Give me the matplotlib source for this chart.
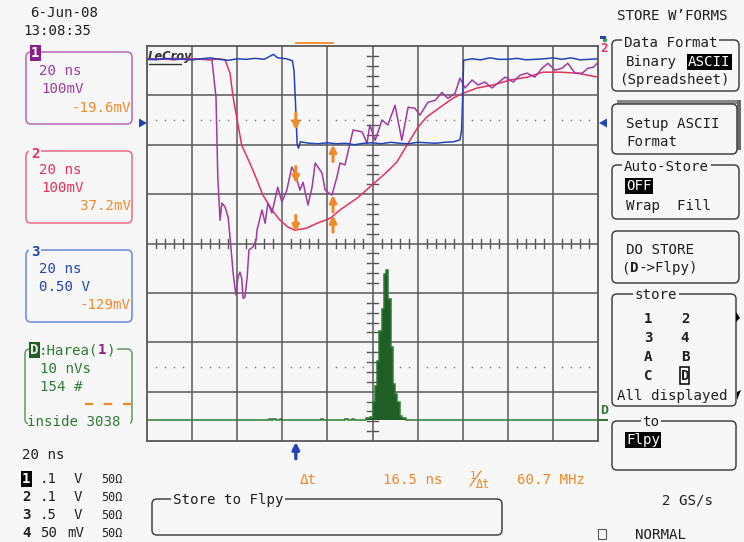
import matplotlib
matplotlib.use("Agg")
import matplotlib.pyplot as plt
from matplotlib.patches import FancyBboxPatch, Polygon, Rectangle
import numpy as np

# ---------------- acquisition data ----------------
# time in ns (20 ns/div, 10 div), level in screen divisions (0..8)
ch3_t = [0, 4, 8, 12, 16, 20, 24, 28, 32, 36, 40, 44, 48, 52, 56, 58, 62, 64.5, 65.2, 65.8,
         66.6, 67.2, 68, 72, 76, 80, 84, 88, 92, 96, 100, 104, 108, 112, 116, 120, 124, 128,
         132, 136, 138.8, 139.5, 140, 140.4, 144, 148, 152, 156, 160, 164, 168, 172, 176, 180,
         184, 188, 192, 196, 200]
ch3_v = [7.74, 7.72, 7.75, 7.73, 7.74, 7.72, 7.74, 7.76, 7.73, 7.71, 7.74, 7.73, 7.75, 7.73,
         7.83, 7.76, 7.74, 7.70, 7.50, 6.90, 6.00, 5.93, 6.06, 6.03, 6.02, 6.04, 6.02, 6.03,
         6.00, 6.03, 6.04, 6.02, 6.05, 6.03, 6.02, 6.05, 6.04, 6.03, 6.05, 6.06, 6.10, 6.30,
         6.96, 7.71, 7.74, 7.72, 7.76, 7.73, 7.73, 7.75, 7.72, 7.73, 7.74, 7.76, 7.73, 7.76,
         7.72, 7.73, 7.74]

ch2_t = [0, 6, 12, 18, 24, 28, 32, 34.6, 36.8, 38.2, 40, 42, 45.6, 48.8, 51.4, 55.4, 59, 62.6,
         65.6, 70.8, 75.4, 81.2, 85.6, 93.2, 100.2, 106.4, 110.8, 115.8, 120.2, 124, 130, 135.6,
         140, 146.4, 153.4, 161, 168.6, 175.6, 183.2, 190.6, 200]
ch2_v = [7.72, 7.74, 7.72, 7.75, 7.73, 7.72, 7.74, 7.72, 7.45, 6.96, 6.50, 5.99, 5.63, 5.28,
         4.98, 4.68, 4.47, 4.33, 4.27, 4.31, 4.41, 4.51, 4.68, 4.92, 5.20, 5.45, 5.65, 6.03,
         6.36, 6.56, 6.76, 6.94, 7.04, 7.15, 7.21, 7.31, 7.37, 7.47, 7.47, 7.45, 7.37]

ch1_t = [0, 6, 12, 18, 24, 28.8, 30.6, 31.4, 32.4, 33.2, 34.6, 36, 37.2, 38.2, 39.4, 40.4, 41.2,
         42, 42.6, 43.4, 44.4, 45.2, 47, 48.4, 48.8, 51, 52.4, 53.6, 55.4, 58, 59.8, 62, 64.2,
         65.6, 67.8, 69.2, 71.4, 73.2, 74.6, 77.6, 79, 82, 84.2, 85.6, 87.8, 90, 91.4, 95.4,
         97.6, 98.8, 101.2, 104.2, 106.8, 110, 113, 115.8, 118.8, 121, 124.6, 127.8, 130.8,
         133.4, 136.6, 138.8, 141, 144.2, 146.8, 149.8, 153, 155.6, 158.8, 162.4, 165.4, 168.6,
         172, 175.2, 177.8, 181, 184, 186.6, 189.8, 193, 195.6, 198, 200]
ch1_v = [7.74, 7.73, 7.75, 7.72, 7.74, 7.72, 6.96, 5.34, 4.47, 4.82, 4.74, 4.53, 3.93, 3.40,
         2.96, 3.32, 3.42, 3.30, 2.89, 2.91, 3.30, 3.87, 3.93, 4.07, 4.27, 4.68, 4.41, 4.82,
         4.62, 5.14, 4.84, 5.08, 5.55, 5.43, 5.08, 5.24, 4.78, 5.14, 5.63, 5.43, 5.08, 4.98,
         5.34, 5.63, 5.59, 6.03, 6.30, 6.26, 6.03, 6.40, 6.09, 6.50, 6.40, 6.80, 6.09, 6.76,
         6.74, 6.60, 6.86, 6.90, 7.06, 6.94, 7.04, 7.35, 7.15, 7.31, 7.21, 7.27, 7.15, 7.25,
         7.37, 7.27, 7.41, 7.45, 7.37, 7.55, 7.65, 7.51, 7.55, 7.65, 7.45, 7.45, 7.55, 7.57,
         7.67]

# math trace D: histogram of area (1 ns bins, left edge in ns -> hits)
hist_t = [54, 56, 59, 77, 88, 91, 97, 98, 99, 100, 101, 102, 103, 104, 105, 106, 107, 108,
          109, 110, 111, 112, 113, 114]
hist_n = [1, 1, 1, 1, 1, 1, 2, 2, 3, 18, 34, 60, 90, 112, 148, 152, 122, 74, 36, 26, 18, 4,
          2, 2]

cursor_t1 = 66.0
delta_t = 16.5
cursor_t2 = cursor_t1 + delta_t
trigger_t = 66.0
# levels (div) the cursors read on each trace
cur1_lv = {"ch3": 6.30, "ch1": 5.22, "ch2": 4.23}
cur2_lv = {"ch3": 6.00, "ch1": 4.98, "ch2": 4.57}

# ---------------- styling ----------------
W, H = 744, 542
BG = "#f7f7f7"
GRID = "#585858"
FG = "#202020"
PURPLE = "#a03aa0"
PURPLE_D = "#8a1f8a"
RED = "#e8305c"
BLUE = "#2244b8"
ORANGE = "#f0892a"
GREEN = "#2f7a34"
GREEN_D = "#1f5e24"
MONO = "DejaVu Sans Mono"
FS = 10.2

fig = plt.figure(figsize=(W / 100, H / 100), dpi=100, facecolor=BG)
ov = fig.add_axes([0, 0, 1, 1], zorder=0)
ov.set_xlim(0, W)
ov.set_ylim(H, 0)
ov.axis("off")
ov.set_facecolor(BG)


def txt(x, y, s, c=FG, ha="left", fs=FS, bold=False, inv=None, bg=False, fam=MONO, z=3):
    kw = {}
    if inv is not None:
        kw["bbox"] = dict(boxstyle="square,pad=0.08", fc=inv, ec="none")
    elif bg:
        kw["bbox"] = dict(boxstyle="square,pad=0.12", fc=BG, ec="none")
    ov.text(x, y + 5, s, color=c, ha=ha, va="baseline", fontsize=fs,
            fontweight="bold" if bold else "normal", family=fam, zorder=z, **kw)


def box(x0, y0, x1, y1, color, lw=1.1, r=5):
    ov.add_patch(FancyBboxPatch((x0, y0), x1 - x0, y1 - y0,
                                boxstyle=f"round,pad=0,rounding_size={r}",
                                fc="none", ec=color, lw=lw, zorder=2))


# ---------------- left info panels ----------------
txt(30, 12, "6-Jun-08")
txt(23, 30, "13:08:35")

box(26, 52, 132, 124, "#b466b4")
txt(31, 52, "1", c="white", bold=True, inv=PURPLE_D)
txt(39, 70, "20 ns", c=PURPLE)
txt(41, 88, "100mV", c=PURPLE)
txt(131, 107, "-19.6mV", c=ORANGE, ha="right")

box(26, 151, 132, 223, "#ea6a86")
txt(31, 153, "2", c=RED, bold=True, bg=True)
txt(39, 169, "20 ns", c=RED)
txt(41, 187, "100mV", c=RED)
txt(131, 205, "37.2mV", c=ORANGE, ha="right")

box(26, 250, 132, 322, "#6a86dc")
txt(31, 251, "3", c=BLUE, bold=True, bg=True)
txt(39, 268, "20 ns", c=BLUE)
txt(39, 286, "0.50 V", c=BLUE)
txt(131, 304, "-129mV", c=ORANGE, ha="right")

box(25, 349, 132, 424, "#5f9a62")
cw = 0.602 * FS * 100 / 72
ov.add_patch(Rectangle((30, 341), cw, 17, fc=BG, ec="none", zorder=2.5))
ov.add_patch(Rectangle((30 + cw, 343), cw * 9.2, 14, fc=BG, ec="none", zorder=2.5))
txt(30, 349, "D", c="#e8f0e8", bold=True, inv=GREEN_D)
txt(30 + cw, 349, ":Harea(", c=GREEN)
txt(30 + 8 * cw, 349, "1", c=PURPLE_D, bold=True)
txt(30 + 9 * cw, 349, ")", c=GREEN)
txt(40, 368, "10 nVs", c=GREEN)
txt(40, 386, "154 #", c=GREEN)
for dx in (86, 105, 124):
    ov.plot([dx, dx + 6], [403.5, 403.5], color=ORANGE, lw=1.6, zorder=3)
ov.add_patch(Rectangle((28, 416), 102, 12, fc=BG, ec="none", zorder=2.5))
txt(27, 421, "inside 3038", c=GREEN)

txt(22, 454, "20 ns")
rows_ch = ["1", "2", "3", "4"]
rows_sc = [".1", ".1", ".5", "50"]
rows_un = ["V", "V", "V", "mV"]
rows_y = [478, 496, 514, 532]
for ch, sc, un, y in zip(rows_ch, rows_sc, rows_un, rows_y):
    if ch == "1":
        txt(22, y, ch, c="white", bold=True, inv="black")
    else:
        txt(22, y, ch, bold=True)
    txt(40, y, sc)
    txt(82 if un == "V" else 84, y, un, ha="right")
    txt(101, y, "50\u03a9", fs=8.5)

# ---------------- right menu panels ----------------
txt(617, 15, "STORE W\u2019FORMS")

box(612, 40, 739, 91, "#444444")
txt(624, 42, "Data Format", bg=True)
txt(626, 61, "Binary")
txt(688, 61, "ASCII", c="white", inv="black")
txt(619, 79, "(Spreadsheet)")

ov.add_patch(Rectangle((617, 100), 123, 3.5, fc="#8a8a8a", ec="none", zorder=1.5))
ov.add_patch(Rectangle((737, 100), 3.5, 50, fc="#6a6a6a", ec="none", zorder=1.5))
ov.add_patch(FancyBboxPatch((612, 104), 125, 50, boxstyle="round,pad=0,rounding_size=5",
                            fc=BG, ec="#444444", lw=1.1, zorder=2))
txt(626, 123, "Setup ASCII")
txt(626, 141, "Format")

box(612, 165, 739, 219, "#444444")
txt(624, 166, "Auto-Store", bg=True)
txt(626, 185, "OFF", c="white", inv="black")
txt(626, 205, "Wrap  Fill")

box(612, 231, 739, 283, "#444444")
txt(626, 249, "DO STORE")
txt(621, 267, "(")
txt(621 + cw, 267, "D", bold=True)
txt(621 + 2 * cw, 267, "->Flpy)")

box(612, 294, 736, 406, "#444444")
txt(656, 294, "store", ha="center", bg=True)
store_items = [("1", "2"), ("3", "4"), ("A", "B"), ("C", "D")]
for k, (a, b) in enumerate(store_items):
    y = 318 + 19 * k
    txt(648, y, a, bold=True, ha="center")
    if b == "D":
        ov.add_patch(Rectangle((680, y - 8), 9, 17, fc="none", ec="black", lw=1.1, zorder=3))
    txt(685, y, b, bold=True, ha="center")
txt(617, 395, "All displayed")
ov.add_patch(Polygon([[736, 312], [740, 318], [736, 322]], closed=True, fc="black", zorder=3))
ov.add_patch(Polygon([[737, 392], [741, 390], [737, 400]], closed=True, fc="black", zorder=3))

box(612, 421, 736, 470, "#444444")
txt(651, 421, "to", ha="center", bg=True)
txt(626, 439, "Flpy", c="white", inv="black")

txt(662, 499, "2 GS/s")
ov.add_patch(Rectangle((598, 529), 8, 10, fc="none", ec="#555555", lw=0.8, zorder=3))
txt(635, 534, "NORMAL")

# ---------------- bottom readouts ----------------
txt(300, 479, "\u0394t", c=ORANGE)
txt(383, 479, "16.5 ns", c=ORANGE)
txt(470, 474, "1", c=ORANGE, fs=7.5)
ov.plot([470, 481], [486, 471], color=ORANGE, lw=0.9, zorder=3)
txt(476, 483, "\u0394t", c=ORANGE, fs=8.5)
txt(517, 479, "60.7 MHz", c=ORANGE)

box(152, 499, 502, 535, "#444444")
txt(173, 499, "Store to Flpy", bg=True)

# channel offset markers
ov.add_patch(Polygon([[139, 118.5], [147, 123], [139, 127.5]], closed=True, fc=BLUE, zorder=3))
ov.add_patch(Polygon([[607, 118.5], [599, 123], [607, 127.5]], closed=True, fc=BLUE, zorder=3))
ov.add_patch(Rectangle((600, 36), 6, 3, fc=BLUE, ec="none", zorder=3))
ov.add_patch(Rectangle((603, 39), 4, 3, fc="#3a9a5a", ec="none", zorder=3))
txt(600, 47, "2", c=RED, bold=True, fs=9)
txt(600, 409, "D", c=GREEN, bold=True, fs=9.5)
ov.plot([598, 607], [420, 420], color=GREEN, lw=1.5, zorder=3)

# LeCroy logo in the graticule corner
ov.text(148, 60, "LeCroy", family="DejaVu Sans", fontsize=8.3, fontweight="bold",
        fontstyle="italic", color="#333333", va="baseline", zorder=1)
ov.plot([149, 181], [63.5, 63.5], color="#333333", lw=1.0, zorder=1)

# ---------------- graticule ----------------
GL, GR, GT, GB = 147, 598, 46, 441
ax = fig.add_axes([GL / W, 1 - GB / H, (GR - GL) / W, (GB - GT) / H], zorder=1)
ax.patch.set_alpha(0)
ax.set_xlim(0, 200)
ax.set_ylim(0, 8)
ax.set_xticks([])
ax.set_yticks([])
for s in ax.spines.values():
    s.set_color(GRID)
    s.set_linewidth(1.3)
for i in range(1, 10):
    ax.axvline(i * 20, color=GRID, lw=1.1, zorder=1)
for j in range(1, 8):
    ax.axhline(j, color=GRID, lw=1.1, zorder=1)

# minor ticks on the centre axes
for k in range(1, 40):
    if k % 5:
        yv = k * 0.2
        ax.plot([97.6, 102.4], [yv, yv], color=GRID, lw=1.0, zorder=1)
for k in range(1, 50):
    if k % 5:
        xv = k * 4
        ax.plot([xv, xv], [3.9, 4.1], color=GRID, lw=1.0, zorder=1)

# dotted reference levels
for lv in (6.5, 1.5):
    xs = [k * 4 for k in range(1, 50) if k % 5]
    ax.plot(xs, [lv] * len(xs), ls="none", marker="s", ms=1.0, color="#7a7a7a",
            mec="none", zorder=1)

# math trace D histogram
edges = np.arange(0, 201, 1.0)
counts = np.zeros(200)
for t0, n in zip(hist_t, hist_n):
    counts[int(t0)] = n
base = 0.43
scale = 0.02
ax.stairs(base + counts * scale, edges, baseline=base, fill=True, color=GREEN_D, zorder=2)
ax.stairs(base + counts * scale, edges, baseline=base, fill=False, color=GREEN, lw=1.1,
          zorder=2)

# waveforms
ax.plot(ch2_t, ch2_v, color=RED, lw=1.1, zorder=3)
ax.plot(ch1_t, ch1_v, color=PURPLE, lw=1.1, zorder=4)
ax.plot(ch3_t, ch3_v, color=BLUE, lw=1.1, zorder=5)

# cursors
for key in ("ch3", "ch1", "ch2"):
    lv = cur1_lv[key]
    ax.annotate("", xy=(cursor_t1, lv), xytext=(cursor_t1, lv + 0.34),
                arrowprops=dict(arrowstyle="-|>", color=ORANGE, lw=2.2, mutation_scale=10,
                                shrinkA=0, shrinkB=0), zorder=6)
    lv = cur2_lv[key]
    ax.annotate("", xy=(cursor_t2, lv), xytext=(cursor_t2, lv - 0.34),
                arrowprops=dict(arrowstyle="-|>", color=ORANGE, lw=2.2, mutation_scale=10,
                                shrinkA=0, shrinkB=0), zorder=6)
ax.plot([cursor_t1, cursor_t2], [8.07, 8.07], color=ORANGE, lw=1.3, clip_on=False, zorder=6)

# trigger position marker
ax.annotate("", xy=(trigger_t, -0.02), xytext=(trigger_t, -0.36),
            arrowprops=dict(arrowstyle="-|>", color=BLUE, lw=2.4, mutation_scale=10,
                            shrinkA=0, shrinkB=0), annotation_clip=False, zorder=6)

fig.savefig("out.png", dpi=100, facecolor=BG)
